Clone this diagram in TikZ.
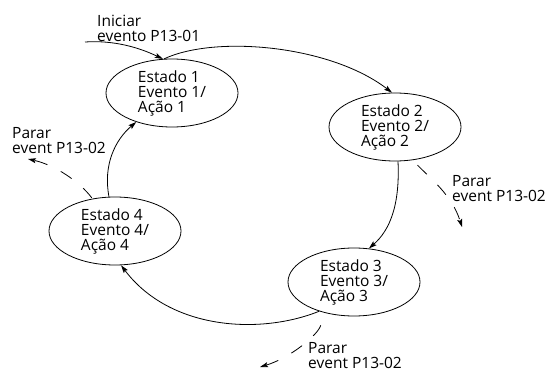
\documentclass[tikz,border=0pt]{standalone}
\usepackage{fontspec}
\setmainfont{Open Sans}
\usetikzlibrary{arrows.meta,shapes.geometric}
\begin{document}
\begin{tikzpicture}[x=1pt,y=-1pt,
 txt/.style={align=left,inner sep=0pt,font=\fontsize{15.5}{15}\selectfont},
 state/.style={txt,draw,ellipse,minimum width=132pt,minimum height=68pt,line width=0.8pt},
 arr/.style={-{Stealth[length=8pt,width=5pt,inset=1.5pt]},line width=0.8pt},
 dsh/.style={arr,dash pattern=on 13pt off 15pt}]
\useasboundingbox (0,0) rectangle (551,374);
\node[state] (s1) at (172,93) {Estado 1\\Evento 1/\\Ação 1};
\node[state] (s2) at (395,127) {Estado 2\\Evento 2/\\Ação 2};
\node[state] (s3) at (354,282) {Estado 3\\Evento 3/\\Ação 3};
\node[state] (s4) at (115,231) {Estado 4\\Evento 4/\\Ação 4};
\node[txt,anchor=north west] (l0) at (97,15) {Iniciar\\evento P13-01};
\node[txt,anchor=north west] (l1) at (12,127) {Parar\\event P13-02};
\node[txt,anchor=north west] (l2) at (452,175) {Parar\\event P13-02};
\node[txt,anchor=north west] (l3) at (308,342) {Parar\\event P13-02};
\coordinate (st) at (85,42);
\coordinate (e1) at (28,159);
\coordinate (e2) at (462,227);
\coordinate (e3) at (260,367);
\draw[arr] (st) .. controls (115,40) and (140,48) .. (s1.105);
\draw[arr] (s1.103) .. controls (215,35) and (330,45) .. (s2.95);
\draw[arr] (s2.-85) .. controls (400,205) and (390,230) .. (s3.66);
\draw[arr] (s3.-140) .. controls (260,335) and (170,330) .. (s4.-80);
\draw[arr] (s4.100) .. controls (103,165) and (115,140) .. (s1.-141);
\draw[dsh,shorten <=1pt] (s4.125) .. controls (80,182) and (55,165) .. (e1);
\draw[dsh,shorten <=7pt] (s2.-62) .. controls (430,178) and (452,195) .. (e2);
\draw[dsh,shorten <=13pt] (s3.-134) .. controls (318,335) and (290,358) .. (e3);
\end{tikzpicture}
\end{document}
